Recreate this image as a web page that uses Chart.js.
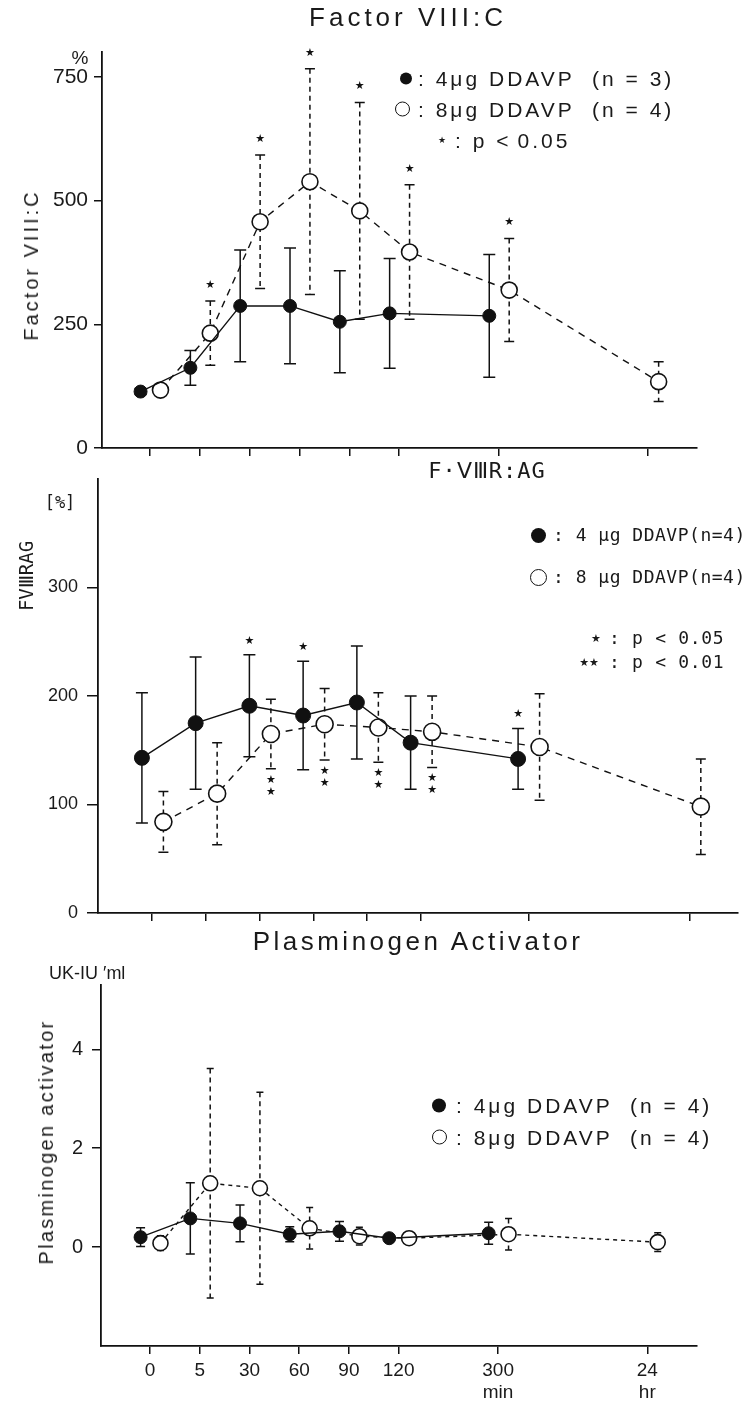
<!DOCTYPE html>
<html>
<head>
<meta charset="utf-8">
<script src="https://cdn.jsdelivr.net/npm/chart.js@4.4.1/dist/chart.umd.min.js"></script>
<style>
body { margin: 0; background: #fff; }
#page { position: relative; width: 748px; height: 1402px; background: #fff; overflow: hidden;
  font-family: "Liberation Sans", Arial, sans-serif; color: #1a1a1a; }
#page canvas { position: absolute; left: 0; top: 0; }
.t { position: absolute; white-space: pre; transform: translate(-50%, -50%); line-height: 1; }
.r { position: absolute; white-space: pre; transform: translate(-50%, -50%) rotate(-90deg); line-height: 1; }
.lg { position: absolute; white-space: pre; transform: translateY(-50%); line-height: 1; display: flex; align-items: center; }
.dot { display: inline-block; border-radius: 50%; background: #111; }
.ring { display: inline-block; border-radius: 50%; border: 1.6px solid #111; box-sizing: border-box; }
.mono { font-family: "DejaVu Sans Mono", "Liberation Mono", monospace; }
.star { font-family: "DejaVu Sans", sans-serif; }
</style>
</head>
<body>
<div id="page">
  <canvas id="chartF8" width="748" height="1402"></canvas>
  <canvas id="chartAg" width="748" height="1402"></canvas>
  <canvas id="chartPa" width="748" height="1402"></canvas>

  <!-- Factor VIII:C -->
  <div class="t" style="left:408px;top:17px;font-size:26px;letter-spacing:4px;">Factor VIII:C</div>
  <div class="t" style="left:80px;top:57px;font-size:19px;">%</div>
  <div class="r" style="left:31px;top:265px;font-size:20px;letter-spacing:3px;">Factor VIII:C</div>
  <div class="lg" style="left:400px;top:78px;font-size:21px;letter-spacing:3px;"><span class="dot" style="width:12px;height:12px;margin-right:6px;"></span>: 4μg DDAVP  (n = 3)</div>
  <div class="lg" style="left:395px;top:109px;font-size:21px;letter-spacing:3px;"><span class="ring" style="width:15px;height:15px;margin-right:8px;"></span>: 8μg DDAVP  (n = 4)</div>
  <div class="lg" style="left:438px;top:140px;font-size:21px;letter-spacing:3px;"><span class="star" style="font-size:9px;margin-right:6px;">★</span>: p <span style="margin-right:6px;">&lt;</span>0.05</div>

  <!-- F.VIII R:AG -->
  <div class="t mono" style="left:487px;top:471px;font-size:22px;letter-spacing:1px;">F·ⅤⅢR:AG</div>
  <div class="t mono" style="left:60px;top:502px;font-size:17px;">[%]</div>
  <div class="r mono" style="left:26px;top:576px;font-size:19px;">FVⅢRAG</div>
  <div class="lg mono" style="left:531px;top:535px;font-size:18px;letter-spacing:0.5px;"><span class="dot" style="width:15px;height:15px;margin-right:7px;"></span>: 4 μg DDAVP(n=4)</div>
  <div class="lg mono" style="left:530px;top:577px;font-size:18px;letter-spacing:0.5px;"><span class="ring" style="width:17px;height:17px;margin-right:6px;"></span>: 8 μg DDAVP(n=4)</div>
  <div class="t star" style="left:596px;top:638px;font-size:11px;">★</div>
  <div class="lg mono" style="left:609px;top:638px;font-size:18px;letter-spacing:0.7px;">: p &lt; 0.05</div>
  <div class="t star" style="left:589px;top:662px;font-size:11px;">★★</div>
  <div class="lg mono" style="left:609px;top:662px;font-size:18px;letter-spacing:0.7px;">: p &lt; 0.01</div>

  <!-- Plasminogen Activator -->
  <div class="t" style="left:418px;top:941px;font-size:26px;letter-spacing:3.5px;">Plasminogen Activator</div>
  <div class="lg" style="left:49px;top:973px;font-size:18px;">UK-IU ′ml</div>
  <div class="r" style="left:46px;top:1142px;font-size:20px;letter-spacing:2.3px;">Plasminogen activator</div>
  <div class="lg" style="left:432px;top:1105px;font-size:21px;letter-spacing:3px;"><span class="dot" style="width:14px;height:14px;margin-right:10px;"></span>: 4μg DDAVP  (n = 4)</div>
  <div class="lg" style="left:432px;top:1137px;font-size:21px;letter-spacing:3px;"><span class="ring" style="width:15px;height:15px;margin-right:9px;"></span>: 8μg DDAVP  (n = 4)</div>
</div>

<script>
var ink = '#111';

// time points on the shared x axis (slot = position on the axis, 300 min and 24 hr are spread out)
var timeLabels = ['0', '5', '30', '60', '90', '120', '300', '24'];
var timeUnits = ['', '', '', '', '', '', 'min', 'hr'];
var timeSlots = [0, 1, 2, 3, 4, 5, 7, 10];

// Factor VIII:C (%), mean and SD
var f8Mean4 = [114, 162, 287, 287, 255, 272, 267];
var f8Sd4 = [6, 35, 113, 117, 103, 111, 124];
var f8Mean8 = [117, 232, 457, 538, 479, 396, 319, 134];
var f8Sd8 = [6, 65, 135, 228, 219, 136, 104, 40];
var f8Stars8Above = [0, 1, 1, 1, 1, 1, 1, 0];

// F.VIII R:AG (%)
var agMean4 = [143, 175, 191, 182, 194, 157, 142];
var agSd4 = [60, 61, 47, 50, 52, 43, 28];
var agMean8 = [84, 110, 165, 174, 171, 167, 153, 98];
var agSd8 = [28, 47, 32, 33, 32, 33, 49, 44];
var agStars4Above = [0, 0, 1, 1, 0, 0, 1];
var agStars8Below = [0, 0, 2, 2, 2, 2, 0, 0];

// Plasminogen activator (UK-IU/ml)
var paMean4 = [0.2, 0.58, 0.48, 0.26, 0.32, 0.18, 0.28];
var paSd4 = [0.19, 0.72, 0.37, 0.15, 0.2, 0.08, 0.22];
var paMean8 = [0.08, 1.29, 1.19, 0.38, 0.22, 0.18, 0.26, 0.1];
var paSd8 = [0.15, 2.32, 1.94, 0.42, 0.18, 0.08, 0.32, 0.19];


var errorBars = {
	id: 'errorBars',
	beforeDatasetsDraw: function (chart) {
		var ctx = chart.ctx;
		var y = chart.scales.y;
		chart.data.datasets.forEach(function (ds, di) {
			var meta = chart.getDatasetMeta(di);
			ctx.save();
			ctx.strokeStyle = ink;
			ctx.lineWidth = ds.barWidth;
			meta.data.forEach(function (pt, i) {
				var d = ds.data[i];
				if (!d.sd) return;
				var top = y.getPixelForValue(d.y + d.sd);
				var bot = y.getPixelForValue(d.y - d.sd);
				var h = ds.capWidth / 2;
				ctx.setLineDash(ds.barDash);
				ctx.beginPath();
				ctx.moveTo(pt.x, top);
				ctx.lineTo(pt.x, bot);
				ctx.stroke();
				ctx.setLineDash([]);
				ctx.beginPath();
				ctx.moveTo(pt.x - h, top);
				ctx.lineTo(pt.x + h, top);
				ctx.moveTo(pt.x - h, bot);
				ctx.lineTo(pt.x + h, bot);
				ctx.stroke();
			});
			ctx.restore();
		});
	},
	afterDatasetsDraw: function (chart) {
		var ctx = chart.ctx;
		var y = chart.scales.y;
		ctx.save();
		ctx.fillStyle = ink;
		ctx.font = '11px "DejaVu Sans"';
		ctx.textAlign = 'center';
		ctx.textBaseline = 'middle';
		chart.data.datasets.forEach(function (ds, di) {
			var meta = chart.getDatasetMeta(di);
			meta.data.forEach(function (pt, i) {
				var d = ds.data[i];
				var top = y.getPixelForValue(d.y + d.sd);
				var bot = y.getPixelForValue(d.y - d.sd);
				if (ds.starsAbove && ds.starsAbove[i]) {
					ctx.fillText('★', pt.x, top - ds.starGap);
				}
				if (ds.starsBelow) {
					for (var k = 0; k < ds.starsBelow[i]; k++) {
						ctx.fillText('★', pt.x, bot + 11 + k * 12);
					}
				}
			});
		});
		ctx.restore();
	}
};

function series(slots, mean, sd, shift) {
	return mean.map(function (m, i) {
		return { x: slots[i] + shift, y: m, sd: sd[i] };
	});
}

function makePanel(id, p) {
	var yAxisWidth = 60;
	var xAxisHeight = p.xLabels ? 56 : 20;
	return new Chart(document.getElementById(id), {
		type: 'line',
		data: {
			datasets: [
				{
					label: '4 µg DDAVP',
					data: series(timeSlots, p.mean4, p.sd4, -0.19),
					borderColor: ink,
					borderWidth: 1.4,
					pointRadius: p.r4,
					pointBackgroundColor: ink,
					pointBorderColor: ink,
					pointBorderWidth: 1,
					barWidth: 1.5,
					barDash: [],
					capWidth: p.cap,
					starsAbove: p.stars4Above,
					starGap: 14
				},
				{
					label: '8 µg DDAVP',
					data: series(timeSlots, p.mean8, p.sd8, 0.21),
					borderColor: ink,
					borderWidth: 1.4,
					borderDash: p.dash,
					pointRadius: p.r8,
					pointBackgroundColor: '#fff',
					pointBorderColor: ink,
					pointBorderWidth: 1.6,
					barWidth: 1.5,
					barDash: [5, 4],
					capWidth: p.cap - 2,
					starsAbove: p.stars8Above,
					starsBelow: p.stars8Below,
					starGap: 16
				}
			]
		},
		options: {
			responsive: false,
			animation: false,
			layout: {
				padding: {
					left: p.area.left - yAxisWidth,
					right: 748 - p.area.right,
					top: p.area.top,
					bottom: 1402 - p.area.bottom - xAxisHeight
				}
			},
			plugins: { legend: { display: false }, tooltip: { enabled: false } },
			scales: {
				x: {
					type: 'linear',
					bounds: 'data',
					min: p.xMin,
					max: p.xMax,
					afterBuildTicks: function (axis) {
						axis.ticks = timeSlots.map(function (v) { return { value: v }; });
					},
					afterFit: function (axis) { axis.height = xAxisHeight; },
					border: { display: true, color: ink, width: 1.8 },
					grid: { display: true, drawOnChartArea: false, drawTicks: true, tickLength: 8, color: ink, lineWidth: 1.5 },
					ticks: {
						display: p.xLabels,
						color: '#1a1a1a',
						padding: 6,
						maxRotation: 0,
						autoSkip: false,
						font: { family: '"Liberation Sans", Arial, sans-serif', size: 19, lineHeight: 1.15 },
						callback: function (v) {
							var i = timeSlots.indexOf(v);
							if (i < 0) return '';
							return timeUnits[i] ? [timeLabels[i], timeUnits[i]] : timeLabels[i];
						}
					}
				},
				y: {
					type: 'linear',
					bounds: 'data',
					min: p.yMin,
					max: p.yMax,
					afterBuildTicks: function (axis) {
						axis.ticks = p.yTicks.map(function (v) { return { value: v }; });
					},
					afterFit: function (axis) { axis.width = yAxisWidth; },
					border: { display: true, color: ink, width: 1.8 },
					grid: { display: true, drawOnChartArea: false, drawTicks: true, tickLength: p.yTickLen, color: ink, lineWidth: 1.5 },
					ticks: {
						color: '#1a1a1a',
						padding: p.yTickPad,
						font: { family: '"Liberation Sans", Arial, sans-serif', size: p.yFont }
					}
				}
			}
		},
		plugins: [errorBars]
	});
}

makePanel('chartF8', {
	area: { left: 102, top: 52, right: 697, bottom: 448 },
	xMin: -0.964, xMax: 10.98, xLabels: false,
	yMin: 0, yMax: 800, yTicks: [0, 250, 500, 750], yFont: 21, yTickLen: 8, yTickPad: 6,
	mean4: f8Mean4, sd4: f8Sd4, mean8: f8Mean8, sd8: f8Sd8,
	stars8Above: f8Stars8Above,
	r4: 6.5, r8: 8, cap: 12, dash: [7, 6]
});

makePanel('chartAg', {
	area: { left: 98, top: 479, right: 748, bottom: 913 },
	xMin: -1.007, xMax: 10.9, xLabels: false,
	yMin: 0, yMax: 400, yTicks: [0, 100, 200, 300], yFont: 18, yTickLen: 11, yTickPad: 9,
	mean4: agMean4, sd4: agSd4, mean8: agMean8, sd8: agSd8,
	stars4Above: agStars4Above, stars8Below: agStars8Below,
	r4: 7.5, r8: 8.5, cap: 12, dash: [7, 6]
});

makePanel('chartPa', {
	area: { left: 101, top: 985, right: 697, bottom: 1346 },
	xMin: -0.986, xMax: 11.0, xLabels: true,
	yMin: -2, yMax: 5.3, yTicks: [0, 2, 4], yFont: 20, yTickLen: 9, yTickPad: 9,
	mean4: paMean4, sd4: paSd4, mean8: paMean8, sd8: paSd8,
	r4: 6.5, r8: 7.5, cap: 9, dash: [4, 4]
});
</script>
</body>
</html>
